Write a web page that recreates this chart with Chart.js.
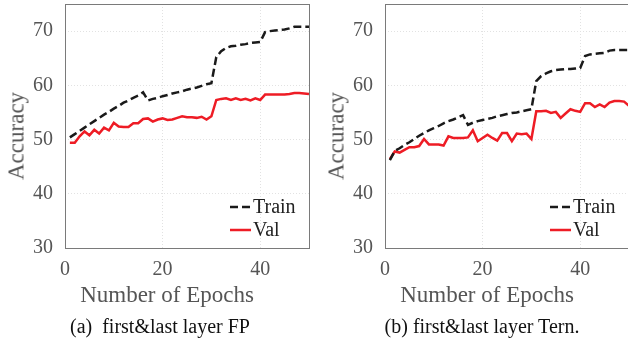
<!DOCTYPE html>
<html>
<head>
<meta charset="utf-8">
<script src="https://cdn.jsdelivr.net/npm/chart.js@4.4.0/dist/chart.umd.min.js"></script>
<style>
    body { margin: 0; background: #fff; }
    #wrap { position: relative; width: 628px; height: 345px; overflow: hidden; background: #fff; }
    canvas { position: absolute; top: 0; }
    .xtitle, .caption, .ytitle { position: absolute; font-family: "Liberation Serif", "Times New Roman", serif; white-space: pre; text-align: center; }
    .xtitle { font-size: 23px; line-height: 23px; color: #555; width: 240px; top: 283px; }
    .ytitle { font-size: 23px; line-height: 23px; color: #555; transform: translate(-50%, -50%) rotate(-90deg); top: 136px; }
    .caption { font-size: 20px; line-height: 20px; color: #111; width: 300px; top: 316px; }
</style>
</head>
<body>
<div id="wrap">
    <canvas id="chartFP" width="320" height="345" style="left:0px"></canvas>
    <canvas id="chartTern" width="320" height="345" style="left:320px"></canvas>

    <div class="ytitle" style="left:16px">Accuracy</div>
    <div class="ytitle" style="left:336px">Accuracy</div>
    <div class="xtitle" style="left:47px">Number of Epochs</div>
    <div class="xtitle" style="left:367px">Number of Epochs</div>
    <div class="caption" style="left:10px">(a)  first&amp;last layer FP</div>
    <div class="caption" style="left:332px">(b) first&amp;last layer Tern.</div>
</div>

<script>
// epochs 1..50
var epochs = [];
for (var i = 1; i <= 50; i++) epochs.push(i);

var xTickValues = [0, 20, 40];
var yTickValues = [30, 40, 50, 60, 70];

// (a) first&last layer FP
var trainFP = [50.4, 51.0, 51.6, 52.2, 52.8, 53.4, 54.0, 54.6, 55.1, 55.7,
    56.2, 56.8, 57.2, 57.7, 58.1, 58.7, 57.2, 57.5, 57.7, 58.0,
    58.2, 58.5, 58.7, 58.9, 59.2, 59.4, 59.6, 59.9, 60.2, 60.4,
    65.2, 66.3, 66.9, 67.2, 67.3, 67.5, 67.6, 67.8, 67.9, 68.0,
    69.8, 70.0, 70.1, 70.2, 70.3, 70.5, 70.8, 70.8, 70.8, 70.8];
var valFP = [49.4, 49.4, 50.6, 51.5, 50.8, 51.8, 51.1, 52.2, 51.7, 53.1,
    52.4, 52.3, 52.3, 53.0, 53.0, 53.8, 53.9, 53.3, 53.7, 53.9,
    53.6, 53.7, 54.0, 54.3, 54.1, 54.1, 54.0, 54.2, 53.7, 54.3,
    57.3, 57.5, 57.6, 57.3, 57.6, 57.3, 57.5, 57.2, 57.6, 57.3,
    58.3, 58.3, 58.3, 58.3, 58.3, 58.4, 58.6, 58.6, 58.5, 58.4];

// (b) first&last layer Tern.
var trainTern = [46.2, 47.9, 48.4, 49.0, 49.5, 50.1, 50.7, 51.2, 51.7, 52.1,
    52.5, 53.0, 53.4, 53.7, 54.1, 54.5, 52.7, 53.1, 53.4, 53.6,
    53.8, 54.0, 54.3, 54.5, 54.7, 54.9, 55.0, 55.2, 55.4, 55.6,
    60.8, 61.7, 62.2, 62.6, 62.8, 62.9, 63.0, 63.0, 63.1, 63.2,
    65.4, 65.7, 65.8, 65.9, 66.0, 66.4, 66.5, 66.5, 66.5, 66.5];
var valTern = [46.4, 47.8, 47.6, 48.1, 48.6, 48.6, 48.8, 50.1, 49.1, 49.1,
    49.1, 48.9, 50.6, 50.3, 50.3, 50.3, 50.4, 51.7, 49.7, 50.3,
    50.9, 50.3, 49.8, 51.2, 51.2, 49.7, 51.1, 51.0, 51.1, 50.1,
    55.2, 55.2, 55.3, 54.9, 55.1, 54.0, 54.8, 55.6, 55.3, 55.1,
    56.7, 56.7, 56.0, 56.5, 56.0, 56.8, 57.1, 57.1, 57.0, 56.2];

var FONT = '"Liberation Serif", "Times New Roman", serif';

function toPoints(ys) {
    return epochs.map(function (e, i) { return { x: e, y: ys[i] }; });
}

// box around the plot area + legend in the lower right corner
var boxLegend = {
    id: 'boxLegend',
    afterDatasetsDraw: function (chart) {
        var a = chart.chartArea;
        var ctx = chart.ctx;
        ctx.save();
        ctx.strokeStyle = '#7a7a7a';
        ctx.lineWidth = 1;
        ctx.strokeRect(Math.round(a.left) + 0.5, Math.round(a.top) + 0.5,
            Math.round(a.right - a.left), Math.round(a.bottom - a.top));

        chart.data.datasets.forEach(function (ds, i) {
            var y = a.top + 203 + i * 23;
            ctx.beginPath();
            ctx.strokeStyle = ds.borderColor;
            ctx.lineWidth = ds.borderWidth;
            ctx.setLineDash(ds.borderDash || []);
            ctx.moveTo(a.left + 165, y);
            ctx.lineTo(a.left + 186, y);
            ctx.stroke();
            ctx.setLineDash([]);
            ctx.fillStyle = '#222';
            ctx.font = '20px ' + FONT;
            ctx.textBaseline = 'middle';
            ctx.fillText(ds.label, a.left + 188, y + 1);
        });
        ctx.restore();
    }
};

function makeChart(id, train, val) {
    var ctx = document.getElementById(id).getContext('2d');
    return new Chart(ctx, {
        type: 'line',
        data: {
            datasets: [{
                label: 'Train',
                data: toPoints(train),
                borderColor: '#1a1a1a',
                borderWidth: 2.5,
                borderDash: [8, 4],
                pointRadius: 0,
                tension: 0,
                fill: false
            },
            {
                label: 'Val',
                data: toPoints(val),
                borderColor: '#ee1c25',
                borderWidth: 2.5,
                pointRadius: 0,
                tension: 0,
                fill: false
            }]
        },
        options: {
            responsive: false,
            animation: false,
            layout: { padding: { top: 4, right: 11, left: 0, bottom: 0 } },
            plugins: {
                legend: { display: false },
                tooltip: { enabled: false }
            },
            scales: {
                x: {
                    type: 'linear',
                    min: 0,
                    max: 50,
                    afterFit: function (s) { s.height = 97; s.paddingLeft = 0; s.paddingRight = 0; },
                    afterBuildTicks: function (s) { s.ticks = xTickValues.map(function (v) { return { value: v }; }); },
                    grid: { color: '#e2e2e2', drawTicks: false },
                    border: { display: false, dash: [1, 2] },
                    ticks: { padding: 10, color: '#555', font: { family: FONT, size: 20 }, maxRotation: 0 }
                },
                y: {
                    min: 30,
                    max: 75,
                    afterFit: function (s) { s.width = 65; s.paddingTop = 0; s.paddingBottom = 0; },
                    afterBuildTicks: function (s) { s.ticks = yTickValues.map(function (v) { return { value: v }; }); },
                    grid: { color: '#e2e2e2', drawTicks: false },
                    border: { display: false, dash: [1, 2] },
                    ticks: { padding: 12, color: '#555', font: { family: FONT, size: 20 } }
                }
            }
        },
        plugins: [boxLegend]
    });
}

document.addEventListener("DOMContentLoaded", function () {
    makeChart('chartFP', trainFP, valFP);
    makeChart('chartTern', trainTern, valTern);
});
</script>
</body>
</html>
